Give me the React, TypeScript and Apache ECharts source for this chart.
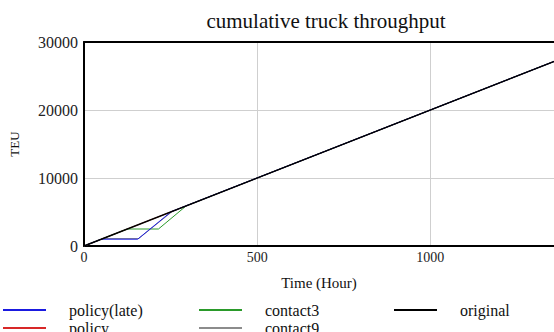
import React, { useEffect, useRef } from "react";
import * as echarts from "echarts";

const seriesNames = ["policy(late)", "policy", "contact3", "contact9", "original"];
const seriesColors = ["#1a1ae0", "#d82828", "#2a9a2a", "#8c8c8c", "#000000"];
const policyLate: [number, number][] = [[0, 0], [50, 1000], [155, 1000], [252, 5050], [1500, 30000]];
const policy: [number, number][] = [[0, 0], [150, 3000], [250, 5000], [1500, 30000]];
const contact3: [number, number][] = [[0, 0], [125, 2500], [215, 2500], [295, 5900], [1500, 30000]];
const contact9: [number, number][] = [[0, 0], [55, 1100], [158, 1100], [256, 5120], [1500, 30000]];
const original: [number, number][] = [[0, 0], [1500, 30000]];
const xRange = [0, 1357];
const yTicks = [0, 10000, 20000, 30000];

const FONT = "'Liberation Serif', 'Times New Roman', serif";

export default function App() {
  const ref = useRef<HTMLDivElement>(null);
  useEffect(() => {
    if (!ref.current) return;
    const chart = echarts.init(ref.current, undefined, { renderer: "svg" });
    const data = [policyLate, policy, contact3, contact9, original];
    const legendPos = [
      { left: 3, top: 302 },
      { left: 3, top: 320 },
      { left: 199, top: 302 },
      { left: 199, top: 320 },
      { left: 394, top: 302 },
    ];
    chart.setOption({
      animation: false,
      title: {
        text: "cumulative truck throughput",
        left: 321,
        top: 5,
        textAlign: "center",
        textStyle: { fontFamily: FONT, fontSize: 21, fontWeight: "normal", color: "#111" },
      },
      grid: {
        left: 83,
        top: 42,
        bottom: 86,
        right: 0,
      },
      legend: seriesNames.map((n, i) => ({
        data: [n],
        left: legendPos[i].left,
        top: legendPos[i].top,
        icon: "rect",
        itemWidth: 43,
        itemHeight: 2,
        padding: 0,
        selectedMode: false,
        textStyle: { fontFamily: FONT, fontSize: 16, color: "#111", padding: [0, 0, 0, 18] },
      })),
      xAxis: [
        {
          type: "value",
          min: xRange[0],
          max: xRange[1],
          interval: 500,
          name: "Time (Hour)",
          nameLocation: "middle",
          nameGap: 29,
          nameTextStyle: { fontFamily: FONT, fontSize: 15, color: "#111" },
          axisLine: { lineStyle: { color: "#000", width: 2 } },
          axisTick: { show: false },
          axisLabel: {
            fontFamily: FONT,
            fontSize: 14,
            color: "#222",
            margin: 4,
            showMaxLabel: false,
            formatter: (v: number) => String(v),
          },
          splitLine: { lineStyle: { color: "#cfcfcf", width: 1 } },
        },
        {
          type: "value",
          position: "top",
          min: xRange[0],
          max: xRange[1],
          interval: 500,
          axisLine: { show: true, lineStyle: { color: "#000", width: 2 } },
          axisTick: { show: false },
          axisLabel: { show: false },
          splitLine: { show: false },
        },
      ],
      yAxis: {
        type: "value",
        min: yTicks[0],
        max: yTicks[yTicks.length - 1],
        interval: 10000,
        name: "TEU",
        nameLocation: "middle",
        nameGap: 63,
        nameRotate: 90,
        nameTextStyle: { fontFamily: FONT, fontSize: 13, color: "#111" },
        axisLine: { show: true, lineStyle: { color: "#000", width: 2 } },
        axisTick: { show: false },
        axisLabel: {
          fontFamily: FONT,
          fontSize: 16,
          color: "#222",
          margin: 6,
          formatter: (v: number) => String(v),
        },
        splitLine: { lineStyle: { color: "#cfcfcf", width: 1 } },
      },
      series: seriesNames.map((n, i) => ({
        name: n,
        type: "line",
        data: data[i],
        showSymbol: false,
        symbol: "none",
        color: seriesColors[i],
        lineStyle: { color: seriesColors[i], width: i === 4 ? 1.5 : 1 },
        z: i === 4 ? 5 : i === 0 ? 4 : 3,
      })),
    });
    return () => chart.dispose();
  }, []);
  return (
    <div
      ref={ref}
      style={{ position: "fixed", left: 0, top: 0, width: 554, height: 332, background: "#fff" }}
    />
  );
}
